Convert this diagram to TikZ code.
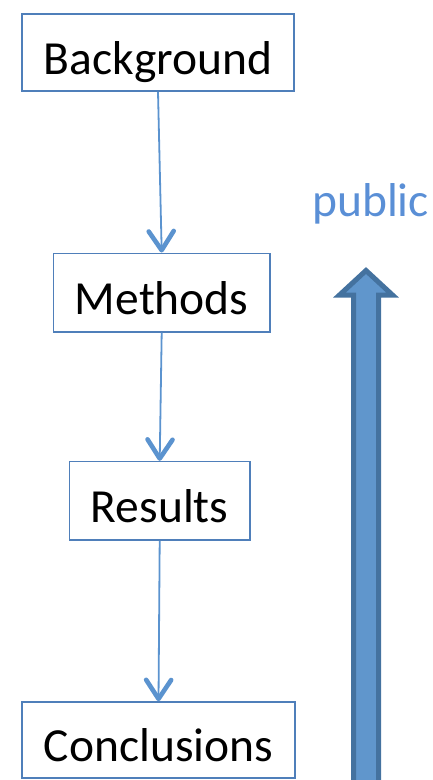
\documentclass[tikz,border=0pt]{standalone}
\usepackage{fontspec}
\setmainfont{Carlito}
\usetikzlibrary{arrows.meta}
\definecolor{boxline}{HTML}{4F7FBA}
\definecolor{conn}{HTML}{5B93CF}
\definecolor{pubtext}{HTML}{5A8FD6}
\definecolor{bigfill}{HTML}{6096CC}
\definecolor{bigline}{HTML}{44729F}
\begin{document}
\begin{tikzpicture}[x=1pt,y=-1pt,
  stagebox/.style={draw=boxline,line width=1.6pt,fill=white,inner sep=0pt,
    font=\fontsize{47.5}{56}\selectfont,text height=43pt,text depth=0pt},
  link/.style={draw=conn,line width=1.8pt,
    -{Straight Barb[length=19pt,width=25pt,line width=4.6pt,round]}}]
\useasboundingbox (0,0) rectangle (433,780);
\clip (0,0) rectangle (433,780);
\node[stagebox,minimum width=272pt,minimum height=77pt] (bg) at (158,52.5) {Background};
\node[stagebox,minimum width=216.7pt,minimum height=78.4pt] (met) at (161.7,292.5) {Methods};
\node[stagebox,minimum width=180.7pt,minimum height=78.3pt] (res) at (159.7,500.8) {Results};
\node[stagebox,minimum width=273pt,minimum height=76pt] (con) at (158.5,740) {Conclusions};
\draw[link] (bg.south) -- (met.north);
\draw[link] (met.south) -- (res.north);
\draw[link] (res.south) -- (con.north);
\node[anchor=base west,inner sep=0pt,text=pubtext,font=\fontsize{47.5}{56}\selectfont] (pub) at (312,216) {public};
\draw[fill=bigfill,draw=bigline,line width=5pt,line join=miter]
  (366,270.5) -- (392.5,295) -- (378.5,295) -- (378.5,800) -- (353.5,800) -- (353.5,295) -- (339.5,295) -- cycle;
\end{tikzpicture}
\end{document}
